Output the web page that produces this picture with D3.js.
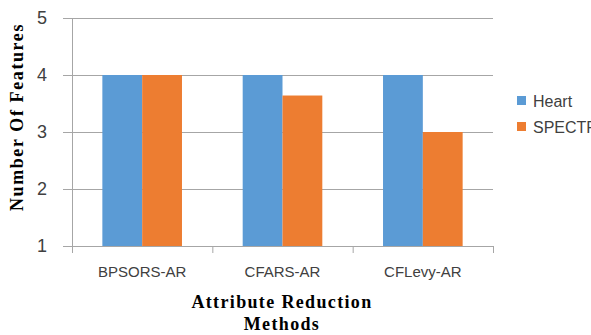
<!DOCTYPE html>
<html><head><meta charset="utf-8">
<script src="https://cdn.jsdelivr.net/npm/d3@7"></script>
<style>body{margin:0;background:#fff}</style>
</head><body>
<script>
const categories = ["BPSORS-AR", "CFARS-AR", "CFLevy-AR"];
const seriesNames = ["Heart", "SPECTF"];
const heart = [4, 4, 4];
const spectf = [4, 3.64, 3];
const yTicks = [1, 2, 3, 4, 5];
const colors = ["#5B9BD5", "#ED7D31"];

const W = 591, H = 335;
const svg = d3.select("body").append("svg").attr("width", W).attr("height", H);
const mLeft = 72, mRight = 493, mTop = 18, mBottom = 246;

const x = d3.scaleBand().domain(categories).range([mLeft, mRight]).paddingInner(0).paddingOuter(0);
const x1 = d3.scaleBand().domain(seriesNames).range([0, x.bandwidth()]).paddingInner(0).paddingOuter(0.7625);
const y = d3.scaleLinear().domain([1, 5]).range([mBottom, mTop]);

// gridlines
svg.append("g").selectAll("line").data(yTicks).join("line")
  .attr("x1", mLeft - 9).attr("x2", mRight)
  .attr("y1", d => y(d) + 0.5).attr("y2", d => y(d) + 0.5)
  .attr("stroke", "#A6A6A6").attr("stroke-width", 1);

// y axis line
svg.append("line").attr("x1", mLeft + 0.5).attr("x2", mLeft + 0.5)
  .attr("y1", mTop).attr("y2", mBottom + 7).attr("stroke", "#A6A6A6");

// x ticks
const bounds = categories.map(c => x(c)).concat([mRight]);
svg.append("g").selectAll("line").data(bounds).join("line")
  .attr("x1", d => d + 0.5).attr("x2", d => d + 0.5)
  .attr("y1", mBottom).attr("y2", mBottom + 7).attr("stroke", "#A6A6A6");

// bars
const data = categories.map((c, i) => ({c, vals: [heart[i], spectf[i]]}));
const g = svg.append("g");
data.forEach(d => {
  d.vals.forEach((v, j) => {
    g.append("rect")
      .attr("x", x(d.c) + x1(seriesNames[j]))
      .attr("width", x1.bandwidth())
      .attr("y", y(v))
      .attr("height", y(1) - y(v))
      .attr("fill", colors[j]);
  });
});

// y tick labels
svg.append("g").selectAll("text").data(yTicks).join("text")
  .attr("x", 47).attr("y", d => y(d)).attr("dy", "0.36em")
  .attr("text-anchor", "end").attr("font-family", "Liberation Sans, Arial, sans-serif")
  .attr("font-size", 18).attr("fill", "#404040").text(d => d);

// category labels
svg.append("g").selectAll("text").data(categories).join("text")
  .attr("x", d => x(d) + x.bandwidth() / 2).attr("y", 277)
  .attr("text-anchor", "middle").attr("font-family", "Liberation Sans, Arial, sans-serif")
  .attr("font-size", 15).attr("fill", "#404040").text(d => d);

// axis titles
const titleFont = "Liberation Serif, Times New Roman, serif";
svg.append("text").attr("x", 282).attr("y", 308).attr("text-anchor", "middle")
  .attr("font-family", titleFont).attr("font-weight", "bold").attr("font-size", 18)
  .attr("letter-spacing", 1.35).text("Attribute Reduction");
svg.append("text").attr("x", 282).attr("y", 330).attr("text-anchor", "middle")
  .attr("font-family", titleFont).attr("font-weight", "bold").attr("font-size", 18)
  .attr("letter-spacing", 1.35).text("Methods");
svg.append("text").attr("transform", "translate(23,117) rotate(-90)").attr("text-anchor", "middle")
  .attr("font-family", titleFont).attr("font-weight", "bold").attr("font-size", 18)
  .attr("letter-spacing", 1.6).text("Number Of Features");

// legend
const lg = svg.append("g");
seriesNames.forEach((s, i) => {
  lg.append("rect").attr("x", 517).attr("y", 96 + i * 26).attr("width", 9).attr("height", 9).attr("fill", colors[i]);
  lg.append("text").attr("x", 533).attr("y", 101 + i * 26).attr("dy", "0.36em")
    .attr("font-family", "Liberation Sans, Arial, sans-serif").attr("font-size", 16)
    .attr("fill", "#404040").text(s);
});
</script>
</body></html>
